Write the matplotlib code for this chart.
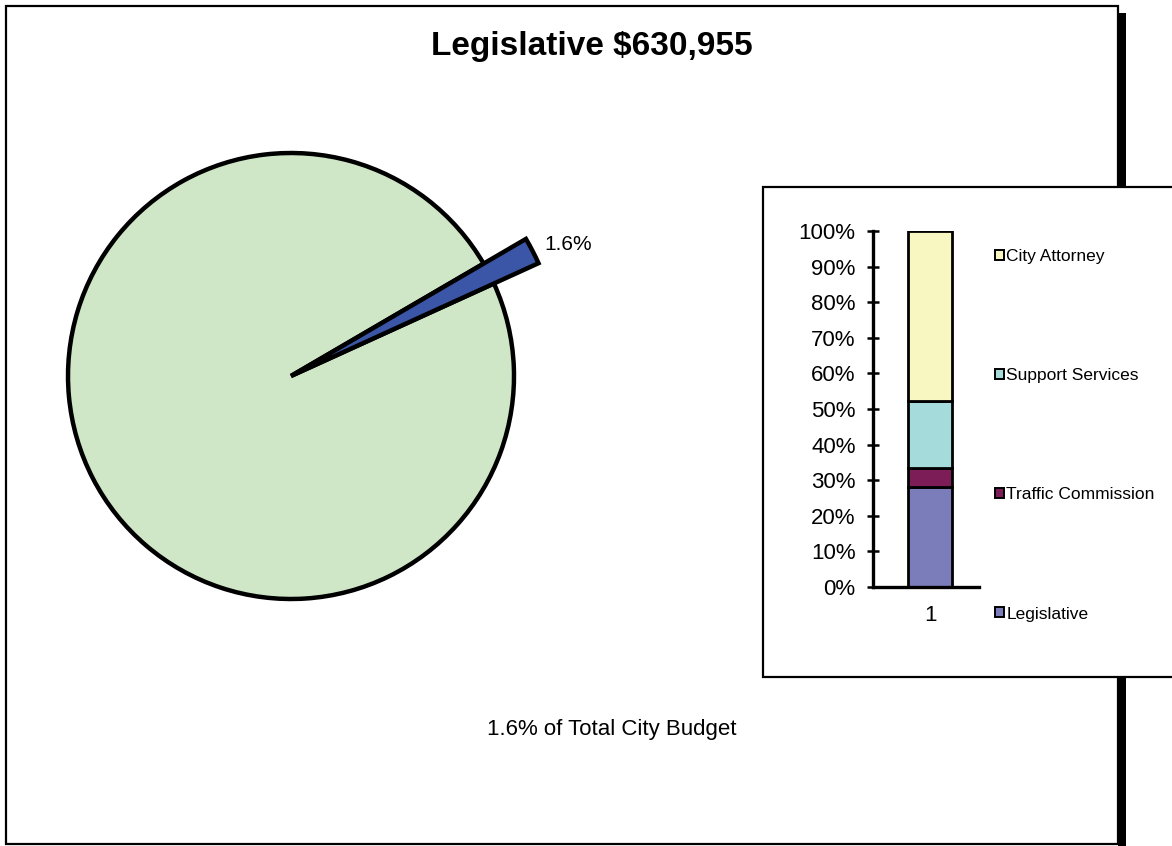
import matplotlib
matplotlib.use("Agg")
import matplotlib.pyplot as plt
from matplotlib.patches import Rectangle, Patch
from matplotlib.ticker import PercentFormatter

plt.rcParams["font.family"] = ["Liberation Sans", "DejaVu Sans"]

# share of the whole city budget
budget_title = "Legislative $630,955"
pie_labels = ["Legislative", "Rest of City Budget"]
pie_shares = [1.6, 98.4]
pie_colors = ["#3B56A7", "#CFE7C7"]

# split of the legislative group by department (percent of group)
depts = ["Legislative", "Traffic Commission", "Support Services", "City Attorney"]
dept_shares = [28.2, 5.3, 18.8, 47.7]
dept_colors = ["#7B7DBB", "#7D1D57", "#A6DBDB", "#F9F7C1"]
bar_categories = [1]

W, H = 1172, 846
fig = plt.figure(figsize=(W / 100, H / 100), dpi=100)

# background axes in pixel units (y measured from bottom)
bg = fig.add_axes([0, 0, 1, 1])
bg.set_xlim(0, W)
bg.set_ylim(0, H)
bg.set_axis_off()

# outer chart frame with drop shadow on the right
bg.add_patch(Rectangle((1118, -10), 8, H - 13 + 10, facecolor="black", edgecolor="none", zorder=1))
bg.add_patch(Rectangle((6, H - 844), 1112, 838, facecolor="white", edgecolor="black", lw=1.6, zorder=2))

# pie: small exploded slice drawn longer than the main disc
wedges, texts = bg.pie(pie_shares, colors=pie_colors, startangle=24.5, counterclock=True,
                       center=(291, H - 376), radius=223, frame=True,
                       labels=[f"{pie_shares[0]:.1f}%", ""], labeldistance=1.28,
                       wedgeprops=dict(edgecolor="black", linewidth=3.2),
                       textprops=dict(fontsize=15))
wedges[0].set_radius(272)
wedges[0].set_zorder(4)
wedges[1].set_zorder(3)
for w in wedges:
    w.set_joinstyle("miter")
bg.set_xlim(0, W)
bg.set_ylim(0, H)
bg.set_aspect("auto")
bg.set_axis_off()

fig.text(592 / W, 1 - 47 / H, budget_title, ha="center", va="center",
         fontsize=24, fontweight="bold")
fig.text(612 / W, 1 - 729 / H, f"{pie_shares[0]:.1f}% of Total City Budget",
         ha="center", va="center", fontsize=16)

# inset box for the department breakdown
bg.add_patch(Rectangle((763, H - 677), 500, 490, facecolor="white", edgecolor="black",
                       lw=1.6, zorder=6))

# stacked percentage bar
bar_ax = fig.add_axes([873 / W, (H - 587) / H, 106 / W, 356 / H])
bar_ax.set_zorder(2)
bottom = 0
for name, share, color in zip(depts, dept_shares, dept_colors):
    bar_ax.bar(bar_categories, [share], width=0.415, bottom=bottom, color=color,
               edgecolor="black", linewidth=2.0, label=name)
    bottom += share
bar_ax.set_xlim(0.462, 1.462)
bar_ax.set_ylim(0, 100)
bar_ax.set_yticks(range(0, 101, 10))
bar_ax.yaxis.set_major_formatter(PercentFormatter(decimals=0))
bar_ax.set_xticks(bar_categories)
bar_ax.tick_params(axis="y", direction="inout", length=9, width=1.8, labelsize=16, pad=8)
bar_ax.tick_params(axis="x", length=0, labelsize=16, pad=13)
for side in ("top", "right"):
    bar_ax.spines[side].set_visible(False)
for side in ("left", "bottom"):
    bar_ax.spines[side].set_linewidth(2.4)
bar_ax.patch.set_alpha(0)

handles = [Patch(facecolor=c, edgecolor="black", linewidth=1.4, label=n)
           for n, c in zip(depts, dept_colors)][::-1]
leg = fig.legend(handles=handles, loc="upper left", bbox_to_anchor=(995 / W, 1 - 249 / H),
                 frameon=False, fontsize=12.5, handlelength=0.5, handleheight=0.5,
                 handletextpad=0.15, labelspacing=6.0, borderpad=0, borderaxespad=0)
leg.set_zorder(10)

fig.savefig("out.png", dpi=100)
